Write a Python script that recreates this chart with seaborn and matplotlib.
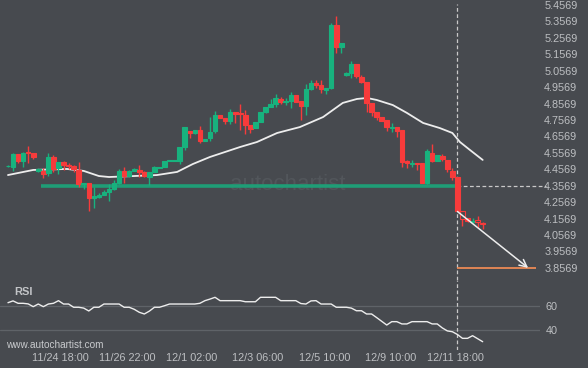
import matplotlib
matplotlib.use("Agg")
import matplotlib.pyplot as plt
import matplotlib.patches as mpatches
import numpy as np
import pandas as pd
import seaborn as sns

# ---------------- data ----------------
opens = [4.474, 4.471, 4.550, 4.508, 4.562, 4.556, 4.447, 4.447, 4.434, 4.532,
         4.465, 4.502, 4.483, 4.477, 4.453, 4.368, 4.374, 4.282, 4.288, 4.301,
         4.319, 4.337, 4.374, 4.447, 4.416, 4.447, 4.453, 4.441, 4.410, 4.441,
         4.465, 4.471, 4.508, 4.508, 4.508, 4.593, 4.690, 4.678, 4.696, 4.629,
         4.647, 4.690, 4.787, 4.769, 4.751, 4.806, 4.800, 4.787, 4.727, 4.708,
         4.745, 4.806, 4.836, 4.854, 4.885, 4.867, 4.873, 4.909, 4.873, 4.842,
         4.946, 4.982, 4.970, 4.940, 4.952, 5.335, 5.201, 5.031, 5.043, 5.098,
         5.019, 4.988, 4.861, 4.806, 4.775, 4.757, 4.708, 4.714, 4.696, 4.508,
         4.489, 4.495, 4.495, 4.374, 4.556, 4.508, 4.538, 4.514, 4.447, 4.410,
         4.203, 4.161, 4.136, 4.149, 4.130]
highs = [4.483, 4.556, 4.550, 4.562, 4.599, 4.556, 4.465, 4.465, 4.556, 4.544,
         4.502, 4.508, 4.495, 4.483, 4.502, 4.374, 4.374, 4.349, 4.313, 4.331,
         4.368, 4.392, 4.459, 4.471, 4.453, 4.465, 4.483, 4.447, 4.441, 4.477,
         4.471, 4.508, 4.514, 4.514, 4.593, 4.714, 4.690, 4.696, 4.720, 4.641,
         4.775, 4.812, 4.787, 4.769, 4.824, 4.806, 4.854, 4.818, 4.727, 4.745,
         4.806, 4.836, 4.885, 4.915, 4.897, 4.891, 4.927, 4.909, 4.873, 4.976,
         5.000, 5.000, 5.000, 4.952, 5.347, 5.390, 5.226, 5.049, 5.116, 5.098,
         5.031, 4.988, 4.861, 4.806, 4.775, 4.757, 4.739, 4.714, 4.696, 4.514,
         4.514, 4.495, 4.495, 4.581, 4.611, 4.544, 4.550, 4.514, 4.465, 4.410,
         4.203, 4.161, 4.161, 4.173, 4.136]
lows = [4.471, 4.447, 4.495, 4.471, 4.495, 4.520, 4.441, 4.404, 4.416, 4.441,
        4.428, 4.453, 4.459, 4.441, 4.349, 4.337, 4.203, 4.222, 4.282, 4.301,
        4.264, 4.331, 4.368, 4.374, 4.410, 4.447, 4.410, 4.410, 4.361, 4.441,
        4.465, 4.471, 4.508, 4.508, 4.489, 4.574, 4.647, 4.672, 4.617, 4.629,
        4.629, 4.678, 4.769, 4.733, 4.733, 4.739, 4.696, 4.672, 4.678, 4.708,
        4.745, 4.800, 4.836, 4.836, 4.854, 4.848, 4.830, 4.867, 4.757, 4.787,
        4.940, 4.952, 4.921, 4.915, 4.946, 5.165, 5.165, 5.025, 5.013, 5.013,
        4.982, 4.806, 4.781, 4.757, 4.751, 4.690, 4.684, 4.653, 4.471, 4.465,
        4.471, 4.453, 4.374, 4.368, 4.502, 4.508, 4.508, 4.441, 4.392, 4.203,
        4.112, 4.136, 4.130, 4.106, 4.094]
closes = [4.480, 4.550, 4.508, 4.556, 4.556, 4.532, 4.459, 4.428, 4.532, 4.459,
          4.502, 4.483, 4.477, 4.459, 4.368, 4.374, 4.282, 4.295, 4.301, 4.319,
          4.337, 4.374, 4.447, 4.416, 4.447, 4.459, 4.441, 4.416, 4.441, 4.471,
          4.471, 4.508, 4.514, 4.514, 4.593, 4.714, 4.678, 4.696, 4.629, 4.641,
          4.684, 4.787, 4.769, 4.751, 4.806, 4.794, 4.794, 4.727, 4.702, 4.745,
          4.806, 4.836, 4.854, 4.891, 4.867, 4.873, 4.909, 4.867, 4.842, 4.946,
          4.982, 4.970, 4.946, 4.952, 5.335, 5.201, 5.226, 5.043, 5.098, 5.025,
          4.988, 4.861, 4.806, 4.775, 4.751, 4.714, 4.714, 4.690, 4.502, 4.495,
          4.495, 4.489, 4.374, 4.568, 4.508, 4.544, 4.520, 4.459, 4.410, 4.203,
          4.155, 4.142, 4.142, 4.136, 4.124]
hollow_candles = [90, 93]

ma_idx = [0, 5, 11.7, 15, 18, 20, 25, 29.5, 33.5, 36.6, 40, 46, 49.3, 53.3,
          57.8, 62.4, 63.8, 66.3, 69.1, 71.1, 73, 76.2, 79, 82.2, 85.5, 88,
          89.5, 91.5, 94]
ma_val = [4.422, 4.453, 4.459, 4.447, 4.416, 4.410, 4.416, 4.422, 4.441, 4.489,
          4.532, 4.593, 4.623, 4.678, 4.714, 4.775, 4.806, 4.861, 4.885, 4.891,
          4.879, 4.848, 4.800, 4.739, 4.708, 4.678, 4.623, 4.574, 4.514]

rsi_vals = [63.0, 64.5, 62.5, 62.5, 62.0, 59.7, 61.9, 59.7, 61.9, 62.5,
            64.7, 61.9, 61.9, 59.2, 59.2, 58.5, 56.1, 59.2, 59.2, 61.9,
            61.9, 61.9, 61.9, 59.2, 59.2, 57.5, 55.0, 53.6, 56.0, 59.2,
            59.2, 60.5, 61.9, 61.9, 61.9, 61.9, 61.9, 61.9, 62.5, 64.7,
            66.0, 67.5, 64.7, 64.7, 64.7, 64.7, 64.7, 63.8, 63.8, 63.8,
            67.5, 67.5, 67.5, 67.5, 64.7, 64.7, 64.7, 64.7, 62.3, 61.9,
            64.5, 64.7, 61.9, 61.9, 61.9, 59.2, 59.2, 59.2, 58.5, 56.3,
            56.3, 53.6, 53.6, 50.6, 47.5, 44.4, 47.2, 47.2, 45.3, 45.3,
            47.2, 47.2, 47.2, 47.2, 45.3, 45.3, 42.0, 39.5, 38.8, 36.5,
            33.3, 33.3, 35.5, 33.0, 30.5]

price_ticks = [5.4569, 5.3569, 5.2569, 5.1569, 5.0569, 4.9569, 4.8569, 4.7569,
               4.6569, 4.5569, 4.4569, 4.3569, 4.2569, 4.1569, 4.0569, 3.9569,
               3.8569]
rsi_ticks = [60, 40]
xtick_pos = [10.3, 23.6, 36.4, 49.5, 62.8, 75.8, 88.7]
xtick_labels = ["11/24 18:00", "11/26 22:00", "12/1 02:00", "12/3 06:00",
                "12/5 10:00", "12/9 10:00", "12/11 18:00"]

support_level = 4.3569
support_start = 6.5
signal_idx = 89
arrow_start_price = 4.20
arrow_end_idx = 103
target_level = 3.8569
target_end_idx = 104.5

# ---------------- style ----------------
BG = "#474a4f"
GREEN = "#18b27e"
RED = "#f73b3b"
TEAL = "#1f9d76"
TXT = "#bdbfc2"
WHITE = "#ededed"

sns.set_theme(style="dark", rc={"axes.facecolor": BG, "figure.facecolor": BG,
                                "savefig.facecolor": BG})
plt.rcParams["font.family"] = ["Liberation Sans", "DejaVu Sans"]

W, H = 588, 368
fig = plt.figure(figsize=(W / 100, H / 100), dpi=100)
ax = fig.add_axes([0, (H - 280) / H, 540 / W, 280 / H])
ax2 = fig.add_axes([0, (H - 350) / H, 540 / W, 70 / H], sharex=ax)

for a in (ax, ax2):
    a.set_facecolor(BG)
    for s in a.spines.values():
        s.set_visible(False)
    a.grid(False)

n = len(opens)
idx = np.arange(n)
df = pd.DataFrame({"i": idx, "o": opens, "h": highs, "l": lows, "c": closes})
df["up"] = df["c"] >= df["o"]
df["col"] = np.where(df["up"], GREEN, RED)
df["bot"] = df[["o", "c"]].min(axis=1)
df["hgt"] = (df["c"] - df["o"]).abs().clip(lower=0.005)

# watermark
ax.text(0.533, 0.34, "autochartist", transform=ax.transAxes, ha="center",
        va="center", fontsize=16, color="#52565b", zorder=0)

# support line
ax.hlines(support_level, support_start, signal_idx, color=TEAL, lw=2.6, zorder=2)
ax.hlines(support_level, signal_idx, 106.5, color="#c9c9c9", lw=0.9,
          linestyles=(0, (3, 2)), zorder=2, clip_on=False)

# moving average
sns.lineplot(x=ma_idx, y=ma_val, ax=ax, color=WHITE, lw=1.3, sort=False,
             estimator=None, zorder=3)

# candles
ax.vlines(df["i"], df["l"], df["h"], colors=df["col"], lw=1.0, zorder=4)
face = [BG if i in hollow_candles else c for i, c in zip(df["i"], df["col"])]
ax.bar(df["i"], df["hgt"], bottom=df["bot"], width=0.9, color=face,
       edgecolor=df["col"], linewidth=0.8, zorder=5)

# signal vertical dashed line
ax.axvline(signal_idx, ymin=0, ymax=(280 - 4) / 280, color="#c9c9c9", lw=0.9,
           linestyle=(0, (3, 2)), zorder=3)
ax2.axvline(signal_idx, color="#c9c9c9", lw=0.9, linestyle=(0, (3, 2)), zorder=3)

# forecast arrow and target
ax.hlines(target_level, signal_idx, target_end_idx, color="#ec8a55", lw=1.3, zorder=3)
ax.annotate("", xy=(arrow_end_idx, target_level), xytext=(signal_idx, arrow_start_price),
            arrowprops=dict(arrowstyle="->", color=WHITE, lw=1.1, mutation_scale=13,
                            shrinkA=0, shrinkB=0), zorder=6)

ax.set_xlim(-1.58, 105.35)
ax.set_ylim(5.4873 - 0.006086 * 280, 5.4873)
ax.yaxis.tick_right()
ax.set_yticks(price_ticks)
ax.set_yticklabels([f"{v:.4f}" for v in price_ticks])
ax.tick_params(axis="y", length=0, pad=3, labelsize=7.8, labelcolor=TXT)
ax.tick_params(axis="x", bottom=False, labelbottom=False)
ax.set_xlabel("")
ax.set_ylabel("")

# RSI panel
for lv in rsi_ticks:
    ax2.axhline(lv, color="#5f6368", lw=0.9, zorder=1)
sns.lineplot(x=idx, y=rsi_vals, ax=ax2, color=WHITE, lw=1.0, zorder=3)
ax2.set_ylim(23.58, 81.92)
ax2.yaxis.tick_right()
ax2.set_yticks(rsi_ticks)
ax2.set_yticklabels([str(v) for v in rsi_ticks])
ax2.tick_params(axis="y", length=0, pad=4, labelsize=7.8, labelcolor=TXT)
ax2.set_xticks(xtick_pos)
ax2.set_xticklabels(xtick_labels)
ax2.tick_params(axis="x", length=0, pad=2, labelsize=7.8, labelcolor=TXT)
ax2.set_xlabel("")
ax2.set_ylabel("")
ax2.text(0.026, 0.83, "RSI", transform=ax2.transAxes, fontsize=8, fontweight="bold",
         color="#c2c4c7", ha="left", va="center")
ax2.text(0.011, 0.07, "www.autochartist.com", transform=ax2.transAxes, fontsize=7.2,
         color="#c9cbce", ha="left", va="center")

fig.savefig("out.png", dpi=100, facecolor=BG)
